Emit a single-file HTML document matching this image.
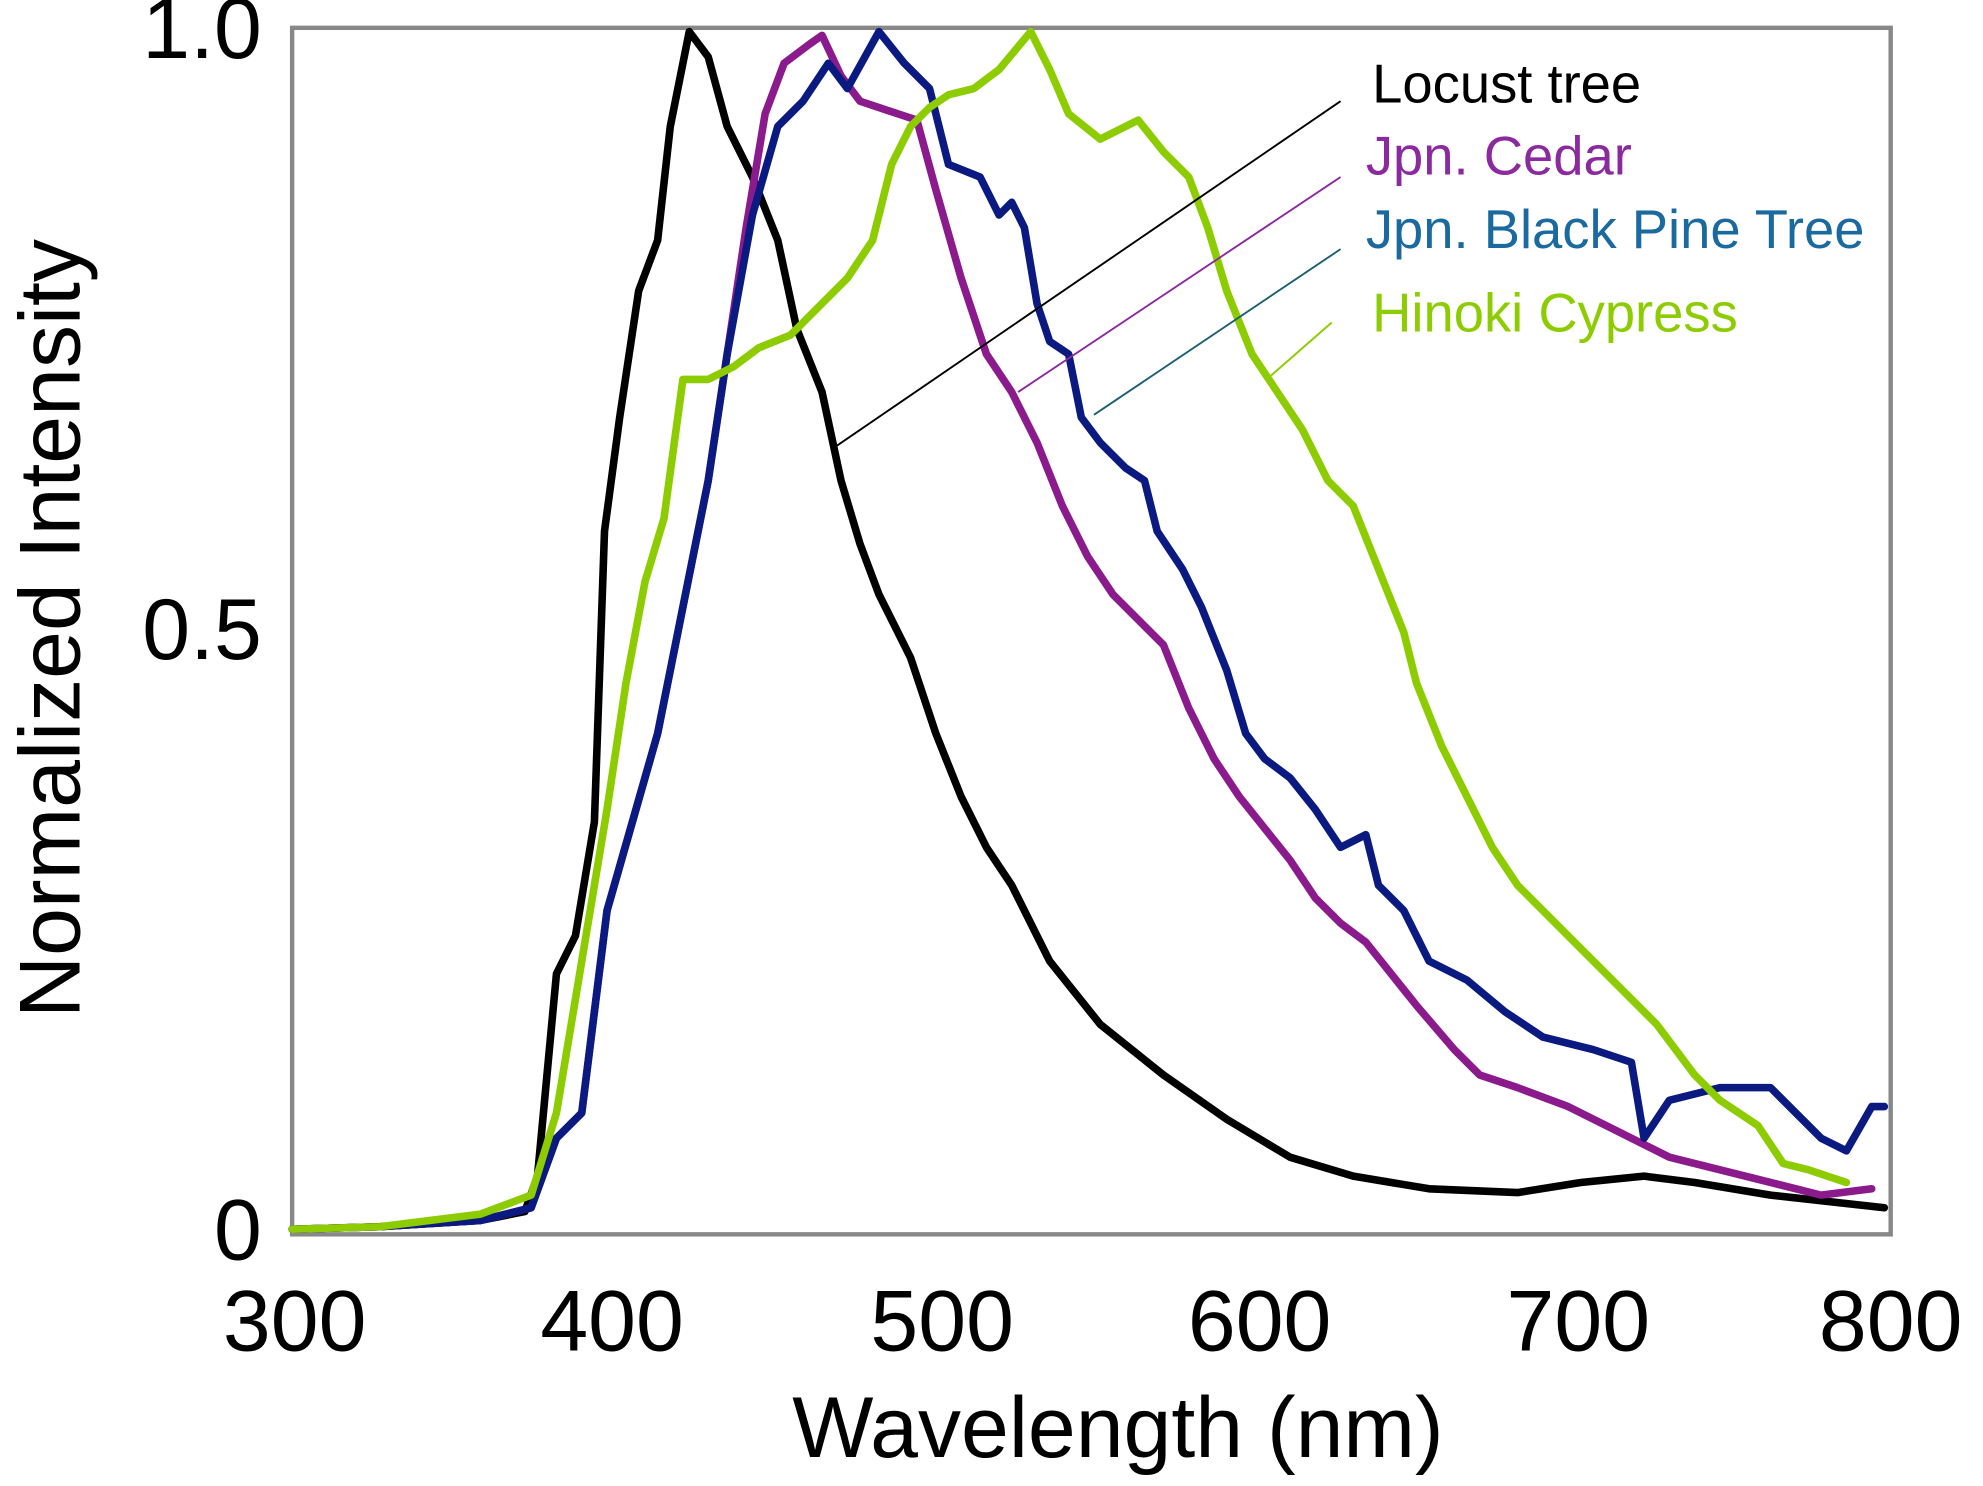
<!DOCTYPE html>
<html><head><meta charset="utf-8"><style>html,body{margin:0;padding:0;background:#fff}svg{display:block}</style></head>
<body>
<svg width="1983" height="1486" viewBox="0 0 1568 1175" xmlns="http://www.w3.org/2000/svg" font-family="Liberation Sans, Arial, sans-serif">
<rect x="231" y="22" width="1264" height="954" fill="#fff" stroke="#888" stroke-width="3.5"/>
<g font-size="68" fill="#000">
<text x="207" y="46" text-anchor="end">1.0</text>
<text x="207" y="521" text-anchor="end">0.5</text>
<text x="207" y="996" text-anchor="end">0</text>
<g text-anchor="middle">
<text x="233" y="1068">300</text><text x="484" y="1068">400</text><text x="745" y="1068">500</text>
<text x="996" y="1068">600</text><text x="1248" y="1068">700</text><text x="1495" y="1068">800</text>
<text x="884" y="1152">Wavelength (nm)</text>
<text transform="translate(63,497) rotate(-90)">Normalized Intensity</text>
</g></g>
<g fill="none" stroke-width="6" stroke-linejoin="round" stroke-linecap="round">
<polyline stroke="#000" points="231,972 300,970 380,965 415,958 425,930 440,770 455,740 470,650 478,420 490,330 505,230 520,190 530,100 545,25 560,45 575,100 595,140 615,190 630,260 650,310 665,380 680,430 695,470 720,520 740,580 760,630 780,670 800,700 830,760 870,810 920,850 970,885 1020,915 1070,930 1130,940 1200,943 1250,935 1300,930 1340,935 1400,945 1490,955"/>
<polyline stroke="#8B1A8C" points="231,972 300,970 380,965 420,955 440,900 460,880 480,720 500,650 520,580 540,480 560,380 575,280 590,180 605,90 620,50 640,35 650,28 665,60 680,80 710,90 725,95 740,150 760,220 780,280 800,310 820,350 840,400 860,440 880,470 900,490 920,510 940,560 960,600 980,630 1000,655 1020,680 1040,710 1060,730 1080,745 1100,770 1120,795 1150,830 1170,850 1200,860 1240,875 1280,895 1320,915 1360,925 1400,935 1440,945 1480,940"/>
<polyline stroke="#0A1A80" points="231,972 300,970 380,965 420,955 440,900 460,880 480,720 500,650 520,580 540,480 560,380 575,280 595,170 615,100 635,80 655,50 670,70 695,25 715,50 735,70 750,130 775,140 790,170 800,160 810,180 820,240 830,270 845,280 855,330 870,350 890,370 905,380 915,420 935,450 950,480 970,530 985,580 1000,600 1020,615 1040,640 1060,670 1080,660 1090,700 1110,720 1130,760 1160,775 1190,800 1220,820 1260,830 1290,840 1300,900 1320,870 1360,860 1400,860 1420,880 1440,900 1460,910 1480,875 1490,875"/>
<polyline stroke="#8CCC00" points="231,972 300,970 380,960 420,945 440,880 460,760 480,640 495,540 510,460 525,410 540,300 560,300 580,290 600,275 625,265 645,245 670,220 690,190 705,130 720,100 735,85 750,75 770,70 790,55 815,25 830,55 845,90 870,110 900,95 920,120 940,140 955,180 970,230 990,280 1010,310 1030,340 1050,380 1070,400 1090,450 1110,500 1120,540 1140,590 1160,630 1180,670 1200,700 1220,720 1250,750 1280,780 1310,810 1340,850 1360,870 1390,890 1410,920 1430,925 1460,935"/>
</g>
<g stroke-width="1.5">
<line x1="1060" y1="80" x2="658" y2="355" stroke="#000"/>
<line x1="1060" y1="140" x2="805" y2="310" stroke="#8B2A9E"/>
<line x1="1060" y1="197" x2="865" y2="328" stroke="#1a6070"/>
<line x1="1053" y1="255" x2="1005" y2="297" stroke="#8CCC00"/>
</g>
<g font-size="43">
<text x="1085" y="81" fill="#000">Locust tree</text>
<text x="1080" y="138" fill="#8B2A9E">Jpn. Cedar</text>
<text x="1080" y="196" fill="#1A6AA0">Jpn. Black Pine Tree</text>
<text x="1085" y="262" fill="#8CCC00">Hinoki Cypress</text>
</g>
</svg>
</body></html>
